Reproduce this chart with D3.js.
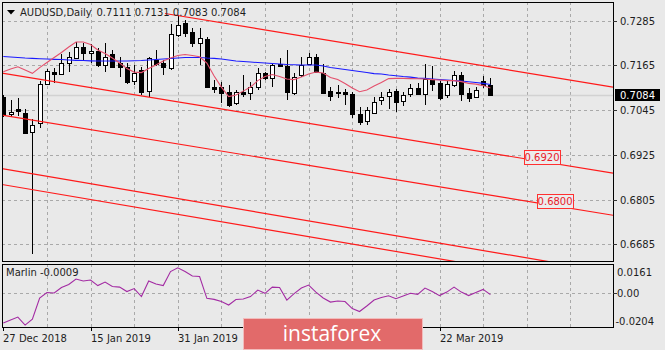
<!DOCTYPE html>
<html><head><meta charset="utf-8">
<script src="https://cdn.jsdelivr.net/npm/d3@7"></script>
<style>
body{margin:0;background:#e9e9e9;}
svg{display:block}
text{font-family:"DejaVu Sans",sans-serif;font-size:10px;fill:#1e1e1e}
</style>
</head><body><svg id="c" width="665" height="350"></svg>
<script>
// ---- data (daily AUDUSD, 27 Dec 2018 .. 2 Apr 2019) ----
const opens  = [.7080,.7034,.7047,.7037,.6986,.7009,.7116,.7148,.7141,.7170,
                .7184,.7215,.7197,.7204,.7167,.7195,.7170,.7161,.7123,.7152,
                .7097,.7179,.7170,.7157,.7246,.7277,.7255,.7226,.7235,.7107,
                .7107,.7094,.7064,.7094,.7090,.7107,.7143,.7130,.7168,.7163,
                .7090,.7139,.7168,.7186,.7145,.7095,.7092,.7094,.7087,.7034,
                .7016,.7037,.7071,.7083,.7097,.7068,.7087,.7103,.7087,.7129,
                .7117,.7085,.7112,.7138,.7090,.7081,.7123,.7111];
const highs  = [.7085,.7072,.7076,.7047,.7020,.7123,.7154,.7157,.7195,.7201,
                .7228,.7224,.7222,.7210,.7224,.7206,.7188,.7170,.7166,.7161,
                .7188,.7206,.7179,.7276,.7300,.7286,.7264,.7264,.7242,.7125,
                .7121,.7112,.7100,.7139,.7121,.7157,.7148,.7170,.7184,.7206,
                .7143,.7188,.7197,.7195,.7168,.7106,.7112,.7102,.7094,.7054,
                .7054,.7080,.7094,.7102,.7102,.7094,.7115,.7117,.7168,.7163,
                .7123,.7125,.7150,.7148,.7105,.7107,.7135,.7131];
const lows   = [.7026,.7025,.7029,.6982,.6660,.6996,.7112,.7118,.7139,.7148,
                .7181,.7179,.7170,.7161,.7148,.7157,.7134,.7115,.7112,.7085,
                .7079,.7163,.7139,.7152,.7242,.7240,.7215,.7166,.7103,.7090,
                .7063,.7052,.7058,.7079,.7072,.7098,.7125,.7107,.7161,.7072,
                .7085,.7134,.7166,.7143,.7088,.7070,.7076,.7058,.7023,.7004,
                .7004,.7034,.7058,.7047,.7041,.7055,.7081,.7084,.7058,.7096,
                .7073,.7076,.7108,.7068,.7066,.7076,.7105,.7083];
const closes = [.7031,.7040,.7042,.6984,.7006,.7116,.7150,.7141,.7172,.7186,
                .7215,.7197,.7204,.7166,.7188,.7161,.7159,.7121,.7143,.7094,
                .7184,.7168,.7159,.7249,.7273,.7251,.7224,.7237,.7107,.7102,
                .7090,.7058,.7094,.7088,.7106,.7143,.7130,.7166,.7163,.7094,
                .7134,.7166,.7186,.7148,.7090,.7082,.7090,.7087,.7033,.7013,
                .7046,.7067,.7080,.7093,.7066,.7085,.7103,.7089,.7129,.7114,
                .7078,.7114,.7138,.7087,.7077,.7098,.7112,.7084];
const maSlow = [.71884,.71870,.71857,.71843,.71835,.71824,.71816,.71808,.71803,.71790,
                .71781,.71776,.71768,.71763,.71763,.71763,.71763,.71763,.71771,.71776,
                .71790,.71803,.71816,.71830,.71843,.71857,.71857,.71857,.71843,.71835,
                .71816,.71790,.71763,.71749,.71736,.71722,.71709,.71696,.71682,.71669,
                .71663,.71655,.71655,.71655,.71629,.71588,.71561,.71535,.71508,.71481,
                .71454,.71427,.71414,.71387,.71368,.71347,.71333,.71306,.71298,.71280,
                .71266,.71253,.71239,.71226,.71207,.71186,.71164,.71132];
const maFast = [.71475,.71548,.71610,.71521,.71433,.71588,.71722,.71857,.71991,.72139,
                .72273,.72273,.72206,.72058,.71964,.71843,.71709,.71561,.71467,.71454,
                .71561,.71655,.71763,.71843,.71910,.71937,.71910,.71878,.71709,.71360,
                .71065,.70810,.70850,.70957,.71065,.71239,.71347,.71400,.71347,.71280,
                .71266,.71333,.71414,.71467,.71441,.71320,.71266,.71159,.71038,.70939,
                .70984,.71092,.71186,.71293,.71298,.71298,.71293,.71288,.71280,.71266,
                .71253,.71239,.71239,.71212,.71164,.71145,.71105,.71038];
const marlin = [-.0219,-.0197,-.0175,-.0234,-.0190,-.0034,.0007,.0003,.0044,.0066,
                .0107,.0092,.0099,.0058,.0084,.0051,.0047,.0014,.0036,-.0023,
                .0092,.0070,.0058,.0162,.0190,.0162,.0129,.0125,-.0036,-.0044,
                -.0060,-.0086,-.0045,-.0041,-.0023,.0025,.0001,.0047,.0044,-.0049,
                -.0001,.0040,.0062,.0010,-.0034,-.0064,-.0056,-.0060,-.0112,-.0134,
                -.0093,-.0049,-.0030,-.0017,-.0039,-.0019,.0001,-.0007,.0040,.0014,
                -.0016,.0010,.0047,.0010,-.0016,.0007,.0030,-.0009];
const priceTicks = [0.7285,0.7165,0.7045,0.6925,0.6805,0.6685];
const marlinTicks = [0.0161,0,-0.0204];
const marlinTickLabels = ["0.0161","0.00","-0.0204"];
const dateTickIndex = [0,12,24,60];
const dateTickLabels = ["27 Dec 2018","15 Jan 2019","31 Jan 2019","22 Mar 2019"];
// channel trend lines: [barIndex, price] endpoints
const channelStart = [[22.24,0.73038],[-0.18,0.71441],[-0.18,0.70313],[-0.18,0.68877],[-0.18,0.68453]];
const channelEnd   = [[83.86,0.71065],[83.86,0.68756],[83.86,0.67628],[83.86,0.66093],[83.86,0.65669]];
const levelPrices = [0.6920,0.6800];
const levelTexts  = ["0.6920","0.6800"];
const levelIndex  = [74.1,75.9];
const lastPrice = 0.7084;
const titleSymbol = "AUDUSD,Daily";
const titleOHLC = "0.7111 0.7131 0.7083 0.7084";
const indicatorName = "Marlin -0.0009";

// ---- layout ----
const svg = d3.select("#c");
const L = 2, R = 613, T = 2, B = 261, IT = 264, IB = 327;
const x = d3.scaleLinear().domain([0,67]).range([3.3,490.4]);
const y = d3.scaleLinear().domain([0.6685,0.7285]).range([244.3,20.5]);
const yi = d3.scaleLinear().domain([-0.0204,0.0161]).range([321,271.7]);

const defs = svg.append("defs");
defs.append("clipPath").attr("id","cm").append("rect").attr("x",L).attr("y",T).attr("width",R-L).attr("height",B-T);
defs.append("clipPath").attr("id","ci").append("rect").attr("x",L).attr("y",IT).attr("width",R-L).attr("height",IB-IT);

const gridColor = "#a9a9a9";
const vgrid = d3.range(6, 84, 6);
// main grid
const gm = svg.append("g").attr("clip-path","url(#cm)");
gm.selectAll("line.v").data(vgrid).join("line")
  .attr("x1",d=>Math.round(x(d))+0.5).attr("x2",d=>Math.round(x(d))+0.5)
  .attr("y1",T).attr("y2",B).attr("stroke",gridColor).attr("stroke-dasharray","3,3");
gm.selectAll("line.h").data(priceTicks).join("line")
  .attr("x1",L).attr("x2",R).attr("y1",d=>Math.round(y(d))+0.5).attr("y2",d=>Math.round(y(d))+0.5)
  .attr("stroke",gridColor).attr("stroke-dasharray","3,3");
// last price line
gm.append("line").attr("x1",L).attr("x2",R).attr("y1",y(lastPrice)).attr("y2",y(lastPrice))
  .attr("stroke","#d2d2d2").attr("stroke-width",1.6);

// candles
const idx = d3.range(opens.length);
const cg = gm.append("g");
cg.selectAll("line.w").data(idx).join("line")
  .attr("x1",i=>Math.round(x(i))+0.5).attr("x2",i=>Math.round(x(i))+0.5)
  .attr("y1",i=>Math.round(y(highs[i]))).attr("y2",i=>Math.round(y(lows[i])))
  .attr("stroke","#000").attr("stroke-width",1);
cg.selectAll("rect.b").data(idx).join("rect")
  .each(function(i){
    const up = closes[i] >= opens[i];
    const t = Math.round(y(Math.max(opens[i],closes[i])));
    const b = Math.round(y(Math.min(opens[i],closes[i])));
    const xc = Math.round(x(i));
    const s = d3.select(this);
    if (up) {
      s.attr("x",xc-1.5).attr("y",t+0.5).attr("width",4).attr("height",Math.max(1,b-t))
       .attr("fill","#fff").attr("stroke","#000").attr("stroke-width",1);
    } else {
      s.attr("x",xc-2).attr("y",t).attr("width",5).attr("height",Math.max(1,b-t+1))
       .attr("fill","#000");
    }
  });

// moving averages
const lineGen = arr => d3.line().x((d,i)=>x(i)).y(d=>y(d))(arr);
gm.append("path").attr("d",lineGen(maSlow)).attr("fill","none").attr("stroke","#1a1aff").attr("stroke-width",1.1);
gm.append("path").attr("d",lineGen(maFast)).attr("fill","none").attr("stroke","#e4506c").attr("stroke-width",1.1);

// channel lines
gm.selectAll("line.ch").data(channelStart).join("line")
  .attr("x1",d=>x(d[0])).attr("y1",d=>y(d[1]))
  .attr("x2",(d,k)=>x(channelEnd[k][0])).attr("y2",(d,k)=>y(channelEnd[k][1]))
  .attr("stroke","#ff1a1a").attr("stroke-width",1.2);

// level labels
levelPrices.forEach((p,k)=>{
  const cx = x(levelIndex[k]), cy = y(p);
  gm.append("rect").attr("x",Math.round(cx-18)+0.5).attr("y",Math.round(cy-7)+0.5).attr("width",36).attr("height",14)
    .attr("fill","#ececec").attr("stroke","#ff3030");
  gm.append("text").attr("x",cx).attr("y",cy+4).attr("text-anchor","middle")
    .style("fill","#e8202a").text(levelTexts[k]);
});

// panel borders
svg.append("rect").attr("x",L+0.5).attr("y",T+0.5).attr("width",R-L).attr("height",B-T)
  .attr("fill","none").attr("stroke","#000");
// price axis ticks & labels
priceTicks.forEach(p=>{
  const yy = Math.round(y(p))+0.5;
  svg.append("line").attr("x1",R).attr("x2",R+4).attr("y1",yy).attr("y2",yy).attr("stroke","#333");
  svg.append("text").attr("x",620).attr("y",yy+3.5).text(p.toFixed(4));
});
// last price box
svg.append("rect").attr("x",615).attr("y",Math.round(y(lastPrice))-6).attr("width",45).attr("height",12).attr("fill","#000");
svg.append("text").attr("x",620).attr("y",Math.round(y(lastPrice))+4).style("fill","#fff").text(lastPrice.toFixed(4));

// title
svg.append("path").attr("d","M7,10 L15,10 L11,14.5 Z").attr("fill","#000");
svg.append("text").attr("x",20).attr("y",15.5).text(titleSymbol);
svg.append("text").attr("x",96.5).attr("y",15.5).text(titleOHLC);

// ---- indicator panel ----
const gi = svg.append("g").attr("clip-path","url(#ci)");
gi.selectAll("line.v").data(vgrid).join("line")
  .attr("x1",d=>Math.round(x(d))+0.5).attr("x2",d=>Math.round(x(d))+0.5)
  .attr("y1",IT).attr("y2",IB).attr("stroke",gridColor).attr("stroke-dasharray","3,3");
gi.append("line").attr("x1",L).attr("x2",R).attr("y1",Math.round(yi(0))+0.5).attr("y2",Math.round(yi(0))+0.5)
  .attr("stroke",gridColor).attr("stroke-dasharray","3,3");
gi.append("path").attr("d",d3.line().x((d,i)=>x(i)).y(d=>yi(d))(marlin))
  .attr("fill","none").attr("stroke","#a32ba3").attr("stroke-width",1.1);
svg.append("rect").attr("x",L+0.5).attr("y",IT+0.5).attr("width",R-L).attr("height",IB-IT)
  .attr("fill","none").attr("stroke","#000");
svg.append("text").attr("x",6).attr("y",276).text(indicatorName);
marlinTicks.forEach((v,k)=>{
  const yy = Math.round(yi(v))+0.5;
  if (v===0) svg.append("line").attr("x1",R).attr("x2",R+4).attr("y1",yy).attr("y2",yy).attr("stroke","#333");
  svg.append("text").attr("x",v<0?615.5:617).attr("y",yy+3.5).text(marlinTickLabels[k]);
});

// date axis
dateTickIndex.forEach((i,k)=>{
  const xx = Math.round(x(i))+0.5;
  svg.append("line").attr("x1",xx).attr("x2",xx).attr("y1",IB).attr("y2",IB+4).attr("stroke","#000");
  svg.append("text").attr("x",xx-0.5).attr("y",342).text(dateTickLabels[k]);
});

// watermark banner
svg.append("rect").attr("x",243.5).attr("y",318.5).attr("width",179).attr("height",31)
  .attr("fill","#e26a6a").attr("stroke","#f2bcbc");
svg.append("text").attr("x",332).attr("y",341).attr("text-anchor","middle")
  .style("font-family","'Open Sans',sans-serif").style("font-size","21px").style("fill","#fff")
  .text("instaforex");
</script>
</body></html>
